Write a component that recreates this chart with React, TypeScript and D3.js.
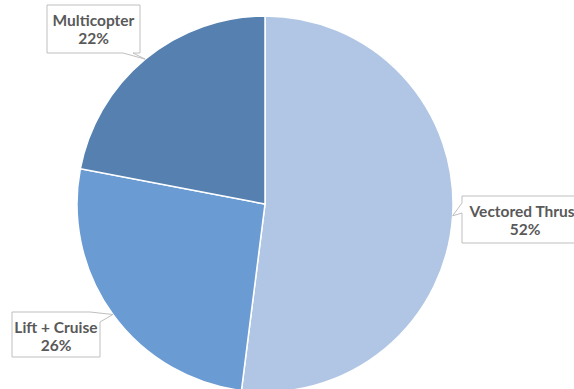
import React from "react";
import * as d3 from "d3";

const categories = ["Vectored Thrust", "Lift + Cruise", "Multicopter"];
const values = [52, 26, 22];
const colors = ["#b0c6e4", "#6a9bd2", "#5580b0"];

// label box layout (x, y, w, h) and wedge base side
const boxes = [
  { x: 462, y: 196, w: 126, h: 47, side: "left" },
  { x: 12, y: 312, w: 88, h: 45, side: "right" },
  { x: 47, y: 5, w: 93, h: 48, side: "bottom" },
];

const W = 574;
const H = 389;
const cx = 265;
const cy = 204;
const R = 188;

export default function App() {
  const pie = d3
    .pie<number>()
    .sort(null)
    .value((d) => d)
    .startAngle(0)
    .endAngle(2 * Math.PI);
  const arcs = pie(values);
  const arc = d3.arc<d3.PieArcDatum<number>>().innerRadius(0).outerRadius(R);
  const total = d3.sum(values);

  return (
    <svg
      width={W}
      height={H}
      style={{ position: "absolute", left: 0, top: 0, background: "#fff" }}
    >
      <g transform={`translate(${cx},${cy})`}>
        {arcs.map((a, i) => (
          <path
            key={i}
            d={arc(a) || ""}
            fill={colors[i]}
            stroke="#fff"
            strokeWidth={1.5}
          />
        ))}
      </g>
      {arcs.map((a, i) => {
        const mid = (a.startAngle + a.endAngle) / 2;
        const tx = cx + Math.sin(mid) * R;
        const ty = cy - Math.cos(mid) * R;
        const b = boxes[i];
        let path = "";
        const x0 = b.x,
          y0 = b.y,
          x1 = b.x + b.w,
          y1 = b.y + b.h;
        if (b.side === "left") {
          path = `M${x0},${y0} L${x1},${y0} L${x1},${y1} L${x0},${y1} L${x0},${y0 + 17} L${tx},${ty} L${x0},${y0 + 7} Z`;
        } else if (b.side === "right") {
          path = `M${x0},${y0} L${x1 - 10},${y0} L${tx},${ty} L${x1},${y0 + 10} L${x1},${y1} L${x0},${y1} Z`;
        } else {
          path = `M${x0},${y0} L${x1},${y0} L${x1},${y1} L${x1 - 7},${y1} L${tx},${ty} L${x1 - 17},${y1} L${x0},${y1} Z`;
        }
        const pct = Math.round((values[i] / total) * 100) + "%";
        const tcx = b.x + b.w / 2;
        return (
          <g key={"l" + i}>
            <path d={path} fill="#fff" stroke="#bfbfbf" strokeWidth={1} />
            <text
              x={tcx}
              y={b.y + 21}
              textAnchor="middle"
              fontFamily="Lato, 'Open Sans', sans-serif"
              fontWeight="bold"
              fontSize={15.5}
              fill="#595959"
            >
              {categories[i]}
            </text>
            <text
              x={tcx}
              y={b.y + 39}
              textAnchor="middle"
              fontFamily="Lato, 'Open Sans', sans-serif"
              fontWeight="bold"
              fontSize={15.5}
              fill="#595959"
            >
              {pct}
            </text>
          </g>
        );
      })}
    </svg>
  );
}
